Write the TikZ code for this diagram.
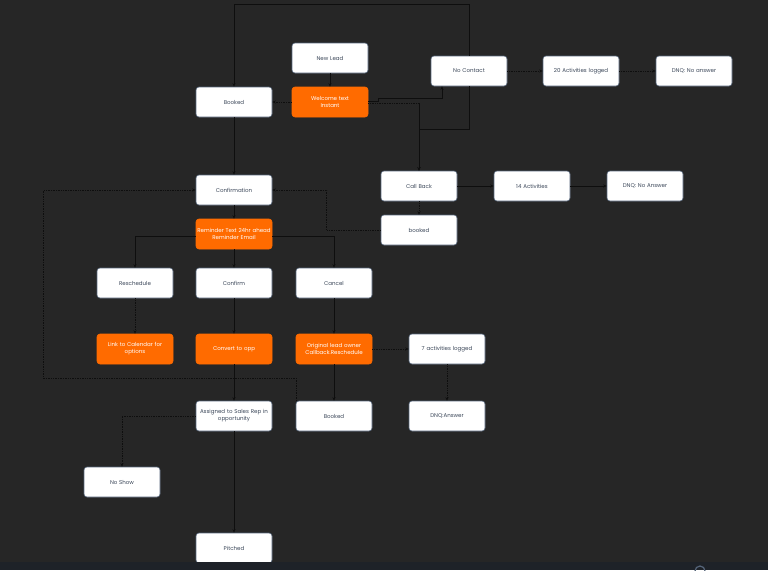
\documentclass[tikz,border=0pt]{standalone}
\usepackage{fontspec}
\setmainfont{Poppins}
\usepackage{tikz}
\usetikzlibrary{arrows.meta}
\usepackage{xcolor}

\definecolor{canvas}{HTML}{262626}
\definecolor{band}{HTML}{1E2228}
\definecolor{leadorange}{HTML}{FF6B00}
\definecolor{boxedge}{HTML}{56657A}
\definecolor{boxtext}{HTML}{3A4658}
\definecolor{wire}{HTML}{0E0E0E}

\tikzset{
	stage/.style={draw=boxedge, fill=white, rounded corners=3pt, line width=0.6pt,
		minimum width=76pt, minimum height=30pt, text width=75pt, align=center,
		inner sep=0pt, text=boxtext, font=\fontsize{5.5}{7}\selectfont},
	action/.style={stage, draw=leadorange, fill=leadorange, text=white},
	wire/.style={draw=wire, line width=0.7pt},
	dots/.style={densely dotted},
}

\begin{document}
\begin{tikzpicture}[x=1pt, y=-1pt, >={Stealth[length=3.5pt,width=3pt]}]
	\useasboundingbox (0,0) rectangle (768,570);
	\fill[canvas] (0,0) rectangle (768,570);

	% top row
	\node[stage] (newlead) at (330,58) {New Lead};
	\node[action] (welcome) at (330,102) {Welcome text\\Instant};
	\node[stage] (bookedtop) at (234,102) {Booked};
	\node[stage] (nocontact) at (469,71) {No Contact};
	\node[stage] (act20) at (581,71) {20 Activities logged};
	\node[stage] (dnqnone) at (694,71) {DNQ: No answer};

	% call back branch
	\node[stage] (callback) at (419,186) {Call Back};
	\node[stage] (act14) at (532,186) {14 Activities};
	\node[stage] (dnqntwo) at (645,186) {DNQ: No Answer};
	\node[stage] (bookedcb) at (419,230) {booked};

	% confirmation branch
	\node[stage] (confirmation) at (234,190) {Confirmation};
	\node[action] (reminder) at (234,234) {Reminder Text 24hr ahead\\Reminder Email};
	\node[stage] (reschedule) at (135,283) {Reschedule};
	\node[stage] (confirm) at (234,283) {Confirm};
	\node[stage] (cancel) at (334,283) {Cancel};
	\node[action] (calendar) at (135,349) {Link to Calendar for\\options};
	\node[action] (convert) at (234,349) {Convert to opp};
	\node[action] (owner) at (334,349) {Original lead owner\\Callback.Reschedule};
	\node[stage] (act7) at (447,349) {7 activities logged};
	\node[stage] (assigned) at (234,416) {Assigned to Sales Rep in\\opportunity};
	\node[stage] (bookedlow) at (334,416) {Booked};
	\node[stage] (dnqans) at (447,416) {DNQ:Answer};
	\node[stage] (noshow) at (122,482) {No Show};
	\node[stage] (pitched) at (234,548) {Pitched};

	\coordinate (drop) at (419,103);

	% connectors
	\draw[wire,->] (newlead) -- (welcome);
	\draw[wire,dots,->] (welcome) -- (bookedtop);
	\draw[wire,->] ([yshift=1pt]welcome.east) -- ++(10,0) |- ([xshift=-27pt,yshift=-12pt]nocontact.south) -- ([xshift=-27pt]nocontact.south);
	\draw[wire,dots] ([yshift=-1pt]welcome.east) -- (drop);
	\draw[wire,->] (drop) -- (callback);
	\draw[wire,->] (nocontact.south) -- ++(0,43) -| (callback.north);
	\draw[wire,->] (nocontact.north) -- ++(0,-51) -| (bookedtop.north);
	\draw[wire,dots,->] (nocontact) -- (act20);
	\draw[wire,dots,->] (act20) -- (dnqnone);

	\draw[wire,->] (callback) -- (act14);
	\draw[wire,->] (act14) -- (dnqntwo);
	\draw[wire,dots,->] (callback) -- (bookedcb);
	\draw[wire,dots,->] (bookedcb.west) -- ++(-54,0) |- (confirmation.east);

	\draw[wire,->] (bookedtop) -- (confirmation);
	\draw[wire,->] (confirmation) -- (reminder);
	\draw[wire,->] ([yshift=-2pt]reminder.west) -| (reschedule.north);
	\draw[wire,->] (reminder) -- (confirm);
	\draw[wire,->] ([yshift=-2pt]reminder.east) -| (cancel.north);
	\draw[wire,dots,->] (reschedule) -- (calendar);
	\draw[wire,->] (confirm) -- (convert);
	\draw[wire,->] (cancel) -- (owner);
	\draw[wire,dots,->] (owner) -- (act7);
	\draw[wire,dots,->] (act7) -- (dnqans);
	\draw[wire,->] (convert) -- (assigned);
	\draw[wire,->] (owner) -- (bookedlow);
	\draw[wire,dots,->] ([xshift=1pt]bookedlow.north west) -- ++(0,-22) -- ++(-253,0) |- (confirmation.west);
	\draw[wire,dots,->] (assigned.west) -| (noshow.north);
	\draw[wire,->] (assigned) -- (pitched);

	% viewer strip
	\fill[band] (0,562) rectangle (768,570);
	\draw[boxedge, line width=1.2pt] (700,571) circle (5);
\end{tikzpicture}
\end{document}
